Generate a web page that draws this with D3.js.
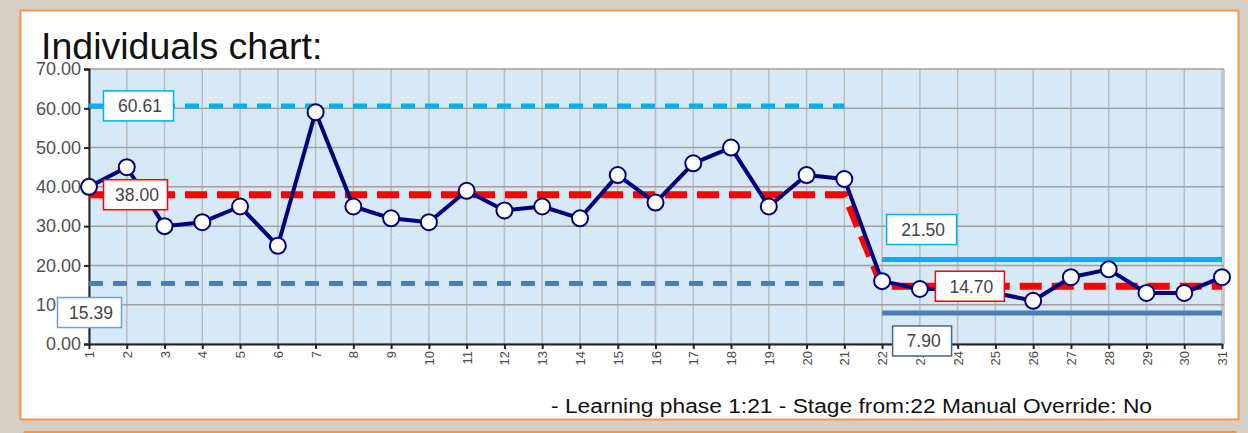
<!DOCTYPE html>
<html>
<head>
<meta charset="utf-8">
<script src="https://cdn.jsdelivr.net/npm/d3@7"></script>
<style>
    html, body { margin: 0; padding: 0; background: #d4d0c8; }
    svg { display: block; font-family: "Liberation Sans", Arial, sans-serif; }
</style>
</head>
<body>
<div id="chart"></div>
<script>
// samples (x = sample number)
const samples = d3.range(1, 32);
const values = [40, 45, 30, 31, 35, 25, 59, 35, 32, 31, 39, 34, 35, 32, 43, 36, 46, 50, 35, 43, 42,
                16, 14, 14, 13, 11, 17, 19, 13, 13, 17];

// phases
const phaseFrom = [1, 22];
const phaseTo = [21, 31];
const centreValues = [38.00, 14.70];
const uclValues = [60.61, 21.50];
const lclValues = [15.39, 7.90];

const yTicks = [0, 10, 20, 30, 40, 50, 60, 70];
const titleText = "Individuals chart:";
const footerText = "- Learning phase 1:21 - Stage from:22 Manual Override: No";

const width = 1248;
const height = 433;
const plot = { left: 89, right: 1222, top: 69, bottom: 344 };

const uclColor = "#00b0f0";
const lclColor = "#4a7ebb";
const centreColor = "#ff0000";
const dataColor = "#000080";

const svg = d3.select("#chart")
    .append("svg")
    .attr("width", width)
    .attr("height", height);

// panels
svg.append("rect")
    .attr("x", 20.5).attr("y", 10.5)
    .attr("width", 1218).attr("height", 409)
    .style("fill", "#ffffff")
    .style("stroke", "#f79646")
    .style("stroke-width", 2);

svg.append("rect")
    .attr("x", 24.5).attr("y", 432)
    .attr("width", 1211).attr("height", 20)
    .style("fill", "#ffffff")
    .style("stroke", "#f79646")
    .style("stroke-width", 2);

const x = d3.scaleLinear().domain([1, 31]).range([plot.left, plot.right]);
const y = d3.scaleLinear().domain([0, 70]).range([plot.bottom, plot.top]);

svg.append("rect")
    .attr("x", plot.left).attr("y", plot.top)
    .attr("width", plot.right + 2 - plot.left)
    .attr("height", plot.bottom - plot.top)
    .style("fill", "#d7e9f7");

// grid
svg.append("g")
    .selectAll("line")
    .data(samples)
    .enter().append("line")
    .attr("x1", d => x(d)).attr("x2", d => x(d))
    .attr("y1", plot.top).attr("y2", plot.bottom)
    .style("stroke", "#bcbcbc")
    .style("stroke-width", 1.5);

svg.append("g")
    .selectAll("line")
    .data(yTicks)
    .enter().append("line")
    .attr("x1", plot.left).attr("x2", plot.right + 2)
    .attr("y1", d => y(d)).attr("y2", d => y(d))
    .style("stroke", "#a0a0a0")
    .style("stroke-width", 1.5);

svg.append("line")
    .attr("x1", plot.right + 2).attr("x2", plot.right + 2)
    .attr("y1", plot.top).attr("y2", plot.bottom)
    .style("stroke", "#a0a0a0")
    .style("stroke-width", 1);

// axes
const yAxis = svg.append("g")
    .attr("transform", "translate(" + plot.left + ",0)")
    .call(d3.axisLeft(y).tickValues(yTicks).tickFormat(d3.format(".2f")).tickSize(5).tickPadding(3));

yAxis.select(".domain").style("stroke", "#222").style("stroke-width", 2);
yAxis.selectAll(".tick line").style("stroke", "#222").style("stroke-width", 2);
yAxis.selectAll("text")
    .style("font-size", "18px")
    .style("fill", "#505050");

const xAxis = svg.append("g")
    .attr("transform", "translate(0," + plot.bottom + ")")
    .call(d3.axisBottom(x).tickValues(samples).tickFormat(d3.format("d")).tickSize(5).tickSizeOuter(0));

xAxis.select(".domain").style("stroke", "#222").style("stroke-width", 2);
xAxis.selectAll(".tick line").style("stroke", "#222").style("stroke-width", 2);
xAxis.selectAll("text")
    .attr("transform", "rotate(-90)")
    .attr("x", -7)
    .attr("y", 0)
    .attr("dy", ".35em")
    .attr("text-anchor", "end")
    .style("font-size", "13px")
    .style("fill", "#4a4a4a");

// control limits
const limitLine = d3.line().x(d => x(d[0])).y(d => y(d[1]));

phaseFrom.forEach((from, i) => {
    const to = phaseTo[i];
    const dashed = i === 0;

    svg.append("path")
        .attr("d", limitLine([[from, uclValues[i]], [to, uclValues[i]]]))
        .style("fill", "none")
        .style("stroke", uclColor)
        .style("stroke-width", 5)
        .style("stroke-dasharray", dashed ? "14,10" : null);

    svg.append("path")
        .attr("d", limitLine([[from, lclValues[i]], [to, lclValues[i]]]))
        .style("fill", "none")
        .style("stroke", lclColor)
        .style("stroke-width", 5)
        .style("stroke-dasharray", dashed ? "14,10" : null);
});

// centre line
const centrePoints = samples.map(s => {
    const phase = s >= phaseFrom[1] ? 1 : 0;
    return [s, centreValues[phase]];
});

svg.append("path")
    .attr("d", limitLine(centrePoints))
    .style("fill", "none")
    .style("stroke", centreColor)
    .style("stroke-width", 7)
    .style("stroke-dasharray", "22,10");

// data
svg.append("path")
    .datum(values)
    .attr("d", d3.line().x((d, i) => x(samples[i])).y(d => y(d)))
    .style("fill", "none")
    .style("stroke", dataColor)
    .style("stroke-width", 4)
    .style("stroke-linejoin", "round");

svg.append("g")
    .selectAll("circle")
    .data(values)
    .enter().append("circle")
    .attr("cx", (d, i) => x(samples[i]))
    .attr("cy", d => y(d))
    .attr("r", 8)
    .style("fill", "#ffffff")
    .style("stroke", dataColor)
    .style("stroke-width", 2);

// value labels
const labels = [
    { value: uclValues[0], color: uclColor, at: 1, dx: 14, dy: 0, w: 70 },
    { value: centreValues[0], color: centreColor, at: 1, dx: 14, dy: 0, w: 64 },
    { value: lclValues[0], color: "#6f9fd8", at: 1, dx: -32, dy: 29, w: 64 },
    { value: uclValues[1], color: uclColor, at: 22, dx: 4, dy: -30, w: 70 },
    { value: centreValues[1], color: centreColor, at: 23, dx: 15, dy: 0, w: 69 },
    { value: lclValues[1], color: "#44678f", at: 22, dx: 10, dy: 28, w: 59 }
];

const label = svg.append("g")
    .selectAll("g")
    .data(labels)
    .enter().append("g")
    .attr("transform", d => "translate(" + (x(d.at) + d.dx) + "," + (y(d.value) + d.dy) + ")");

label.append("rect")
    .attr("x", 0.5)
    .attr("y", -15)
    .attr("width", d => d.w)
    .attr("height", 30)
    .style("fill", "#ffffff")
    .style("stroke", d => d.color)
    .style("stroke-width", 1.5);

label.append("text")
    .attr("x", d => d.w / 2 + 2)
    .attr("y", 0)
    .attr("dy", ".36em")
    .attr("text-anchor", "middle")
    .style("font-size", "17.5px")
    .style("fill", "#444")
    .text(d => d3.format(".2f")(d.value));

// title and footer
svg.append("text")
    .attr("x", 41)
    .attr("y", 59)
    .style("font-size", "37.5px")
    .style("fill", "#111")
    .text(titleText);

svg.append("text")
    .attr("x", 551)
    .attr("y", 413)
    .attr("textLength", 601)
    .attr("lengthAdjust", "spacingAndGlyphs")
    .style("font-size", "20px")
    .style("fill", "#111")
    .text(footerText);
</script>
</body>
</html>
